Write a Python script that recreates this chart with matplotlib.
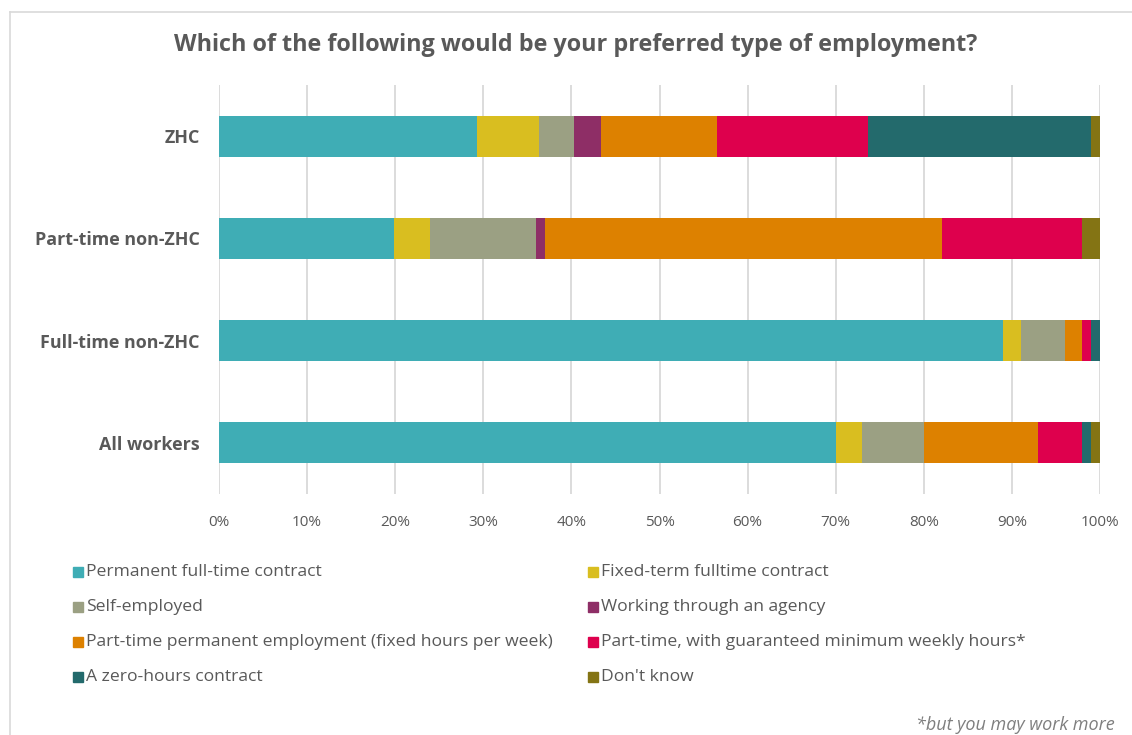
import matplotlib
matplotlib.use("Agg")
import matplotlib.pyplot as plt
from matplotlib.patches import Rectangle
from matplotlib.lines import Line2D
import numpy as np

plt.rcParams['font.family'] = ['Open Sans', 'DejaVu Sans']

categories = ["ZHC", "Part-time non-ZHC", "Full-time non-ZHC", "All workers"]
series_names = [
    "Permanent full-time contract",
    "Fixed-term fulltime contract",
    "Self-employed",
    "Working through an agency",
    "Part-time permanent employment (fixed hours per week)",
    "Part-time, with guaranteed minimum weekly hours*",
    "A zero-hours contract",
    "Don't know",
]
permanent_ft = [29.3, 19.9, 89.0, 70.0]
fixed_term = [7.0, 4.1, 2.0, 3.0]
self_employed = [4.0, 12.0, 5.0, 7.0]
agency = [3.1, 1.0, 0.0, 0.0]
pt_permanent = [13.1, 45.1, 2.0, 13.0]
pt_guaranteed = [17.2, 15.9, 1.0, 5.0]
zero_hours = [25.3, 0.0, 1.0, 1.0]
dont_know = [1.0, 2.0, 0.0, 1.0]
series_values = [permanent_ft, fixed_term, self_employed, agency,
                 pt_permanent, pt_guaranteed, zero_hours, dont_know]
colors = ["#3FADB5", "#D9BE20", "#9BA083", "#8E2E66",
          "#DD8100", "#DE004D", "#236A6C", "#847414"]
tick_labels = [f"{v}%" for v in range(0, 101, 10)]

TXT = "#595959"
fig = plt.figure(figsize=(11.32, 7.35), dpi=100)
ax = fig.add_axes([219/1132, 1-494/735, 881/1132, 409/735])

y = np.arange(len(categories))
left = np.zeros(len(categories))
for vals, c in zip(series_values, colors):
    vals = np.array(vals)
    ax.barh(y, vals, left=left, height=0.4, color=c, zorder=3)
    left += vals

ax.set_ylim(len(categories) - 0.5, -0.5)
ax.set_xlim(0, 100)
ax.set_xticks(np.arange(0, 101, 10))
ax.set_xticklabels(tick_labels, fontsize=11, color=TXT)
ax.set_yticks(y)
ax.set_yticklabels(categories, fontsize=12.9, fontweight='bold', color=TXT)
ax.tick_params(axis='both', length=0)
ax.tick_params(axis='x', pad=15)
ax.tick_params(axis='y', pad=14)
ax.grid(axis='x', color="#D9D9D9", linewidth=1.3, zorder=0)
for s in ax.spines.values():
    s.set_visible(False)

fig.text(576/1132, 1-45/735, "Which of the following would be your preferred type of employment?",
         ha='center', va='center', fontsize=16.8, fontweight='bold', color=TXT)

# legend
col_x = [73/1132, 588/1132]
row_y = [572, 607, 642, 677]
sq = 10
for i, (name, c) in enumerate(zip(series_names, colors)):
    col, row = i % 2, i // 2
    yy = 1 - row_y[row]/735
    fig.patches.append(Rectangle((col_x[col], yy - sq/2/735), sq/1132, sq/735,
                                 transform=fig.transFigure, color=c, figure=fig))
    fig.text(col_x[col] + 13/1132, yy, name, ha='left', va='center',
             fontsize=12.6, color=TXT)

fig.text(1115/1132, 1-725/735, "*but you may work more", ha='right', va='center',
         fontsize=13, style='italic', color="#7F7F7F")

# frame
fig.add_artist(Line2D([10/1132, 10/1132], [0, 1-12/735], transform=fig.transFigure,
                      color="#D9D9D9", linewidth=1.2))
fig.add_artist(Line2D([10/1132, 1], [1-12/735, 1-12/735], transform=fig.transFigure,
                      color="#D9D9D9", linewidth=1.2))

fig.savefig("out.png", dpi=100)
